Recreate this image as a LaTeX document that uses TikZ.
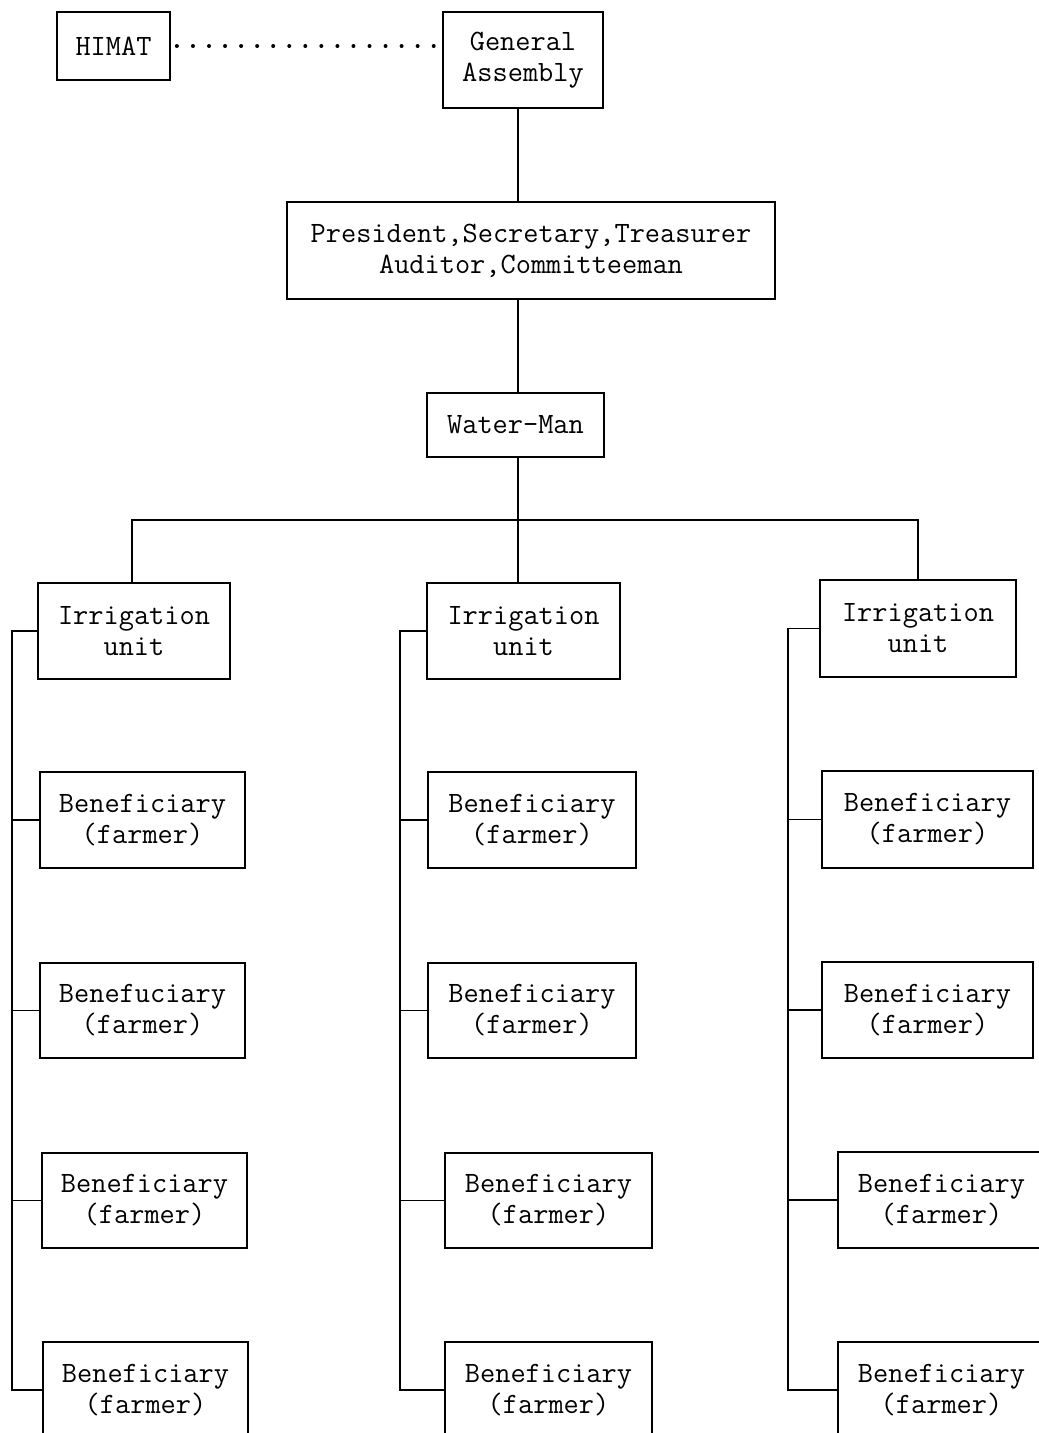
\documentclass[tikz,border=0pt]{standalone}
\usepackage{fontspec}
\begin{document}
\begin{tikzpicture}[x=1pt,y=-1pt,
  every node/.style={font=\ttfamily\fontsize{29.5}{31}\selectfont},
  bx/.style 2 args={draw, line width=1.8pt, align=center, inner sep=0pt,
    minimum width=#1, minimum height=#2},
  conn/.style={line width=1.8pt},
  dots/.style={line width=4pt, line cap=round, dash pattern=on 0pt off 16.05pt}]
\useasboundingbox (0,0) rectangle (1039,1433);
\clip (0,0) rectangle (1039,1433);
\coordinate (spine) at (518,0);
\coordinate (bus) at (0,520);
\coordinate (r1x) at (12,0);
\coordinate (r2x) at (400,0);
\coordinate (r3x) at (788,0);
% top
\node[bx={113}{68}] (himat) at (113.5,46) {HIMAT};
\node[bx={160}{96}] (ga) at (523,60) {General\\Assembly};
\node[bx={488}{97}] (pres) at (531,250.5) {President,Secretary,Treasurer\\Auditor,Committeeman};
\node[bx={177}{64}] (wm) at (515.5,425) {Water-Man};
% irrigation units
\node[bx={192}{96}] (iu1) at (134,631) {Irrigation\\unit};
\node[bx={193}{96}] (iu2) at (523.5,631) {Irrigation\\unit};
\node[bx={196}{97}] (iu3) at (918,628.5) {Irrigation\\unit};
% beneficiaries column 1
\node[bx={205}{96}] (b11) at (142.5,820) {Beneficiary\\(farmer)};
\node[bx={205}{95}] (b12) at (142.5,1010.5) {Benefuciary\\(farmer)};
\node[bx={205}{95}] (b13) at (144.5,1200.5) {Beneficiary\\(farmer)};
\node[bx={205}{96}] (b14) at (145.5,1390) {Beneficiary\\(farmer)};
% column 2
\node[bx={208}{96}] (b21) at (532,820) {Beneficiary\\(farmer)};
\node[bx={208}{95}] (b22) at (532,1010.5) {Beneficiary\\(farmer)};
\node[bx={207}{95}] (b23) at (548.5,1200.5) {Beneficiary\\(farmer)};
\node[bx={207}{96}] (b24) at (548.5,1390) {Beneficiary\\(farmer)};
% column 3
\node[bx={211}{97}] (b31) at (927.5,819.5) {Beneficiary\\(farmer)};
\node[bx={211}{96}] (b32) at (927.5,1010) {Beneficiary\\(farmer)};
\node[bx={207}{96}] (b33) at (941.5,1200) {Beneficiary\\(farmer)};
\node[bx={207}{96}] (b34) at (941.5,1390) {Beneficiary\\(farmer)};
% connectors
\draw[dots] ([xshift=6pt]himat.east) -- (himat.east -| ga.west);
\draw[conn] (ga.south -| spine) -- (pres.north -| spine);
\draw[conn] (pres.south -| spine) -- (wm.north -| spine);
\draw[conn] (wm.south -| spine) -- (spine |- bus);
\draw[conn] (iu1.north -| 132,0) -- (132,520) -- (918,520) -- (iu3.north);
\draw[conn] (spine |- bus) -- (iu2.north -| spine);
% rails
\draw[conn] (iu1.west) -- (iu1.west -| r1x) -- (b14.west -| r1x) -- (b14.west);
\foreach \b in {b11,b12,b13} \draw[conn] (\b.west) -- (\b.west -| r1x);
\draw[conn] (iu2.west) -- (iu2.west -| r2x) -- (b24.west -| r2x) -- (b24.west);
\foreach \b in {b21,b22,b23} \draw[conn] (\b.west) -- (\b.west -| r2x);
\draw[conn] (iu3.west) -- (iu3.west -| r3x) -- (b34.west -| r3x) -- (b34.west);
\foreach \b in {b31,b32,b33} \draw[conn] (\b.west) -- (\b.west -| r3x);
\end{tikzpicture}
\end{document}
